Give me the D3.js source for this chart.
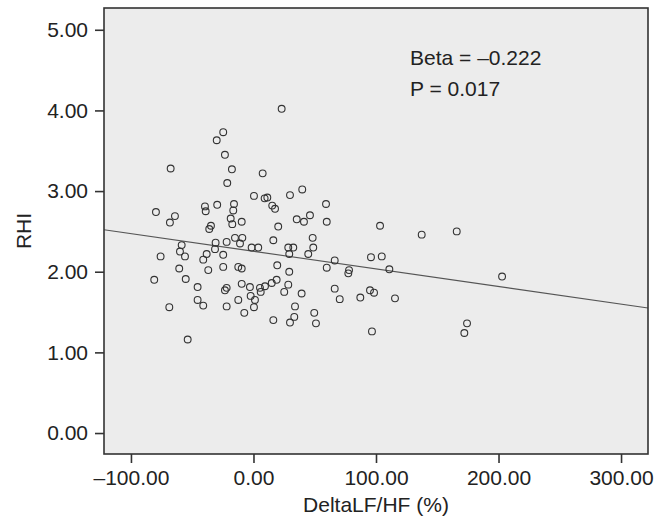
<!DOCTYPE html>
<html>
<head>
<meta charset="utf-8">
<script src="https://cdn.jsdelivr.net/npm/d3@7"></script>
<style>
  html, body { margin: 0; padding: 0; background: #fff; }
  svg text { font-family: "Liberation Sans", Arial, sans-serif; fill: #222; }
</style>
</head>
<body>
<script>
const width = 668,
      height = 524;

// DeltaLF/HF (%) and RHI for each subject
const deltaLFHF = [23.0, -24.7, -30.0, -23.3, -67.6, -17.6, 7.5, -21.4, 39.8, 0.4,
  9.1, 11.3, 29.8, 59.2, -15.9, -29.6, -39.6, -39.0, -16.5, 15.3,
  17.6, -79.6, -64.1, -68.2, 46.1, 35.3, 41.2, -18.6, -17.3, -9.6,
  59.8, -34.7, -36.1, 20.2, 103.3, 137.3, 165.9, 48.3, 16.2, -15.1,
  -9.1, -21.9, -11.0, -30.9, -58.6, -1.5, 3.9, 28.4, 32.5, 48.8,
  -31.4, -60.0, -55.9, -75.8, 29.2, 44.7, -38.2, -41.0, -24.7, -60.6,
  -36.9, -24.7, -12.4, -9.6, 19.4, 29.2, 59.8, -81.0, -55.3, -45.6,
  -21.9, -23.3, -9.6, -2.9, -2.3, 1.2, 0.4, 5.3, 5.9, 9.4,
  14.9, 18.9, 28.4, 25.1, 39.3, -45.6, -41.0, -68.7, -21.9, -12.4,
  -7.5, 33.9, 33.3, 29.8, 16.2, 49.6, 51.0, -53.7, 66.3, 95.9,
  104.7, 110.9, 78.0, 77.4, 202.9, 66.3, 70.4, 87.2, 95.1, 98.4,
  115.5, 96.7, 174.3, 172.1];
const rhi = [4.02, 3.73, 3.63, 3.45, 3.28, 3.27, 3.22, 3.10, 3.02, 2.94,
  2.91, 2.92, 2.95, 2.84, 2.84, 2.83, 2.81, 2.75, 2.76, 2.82,
  2.78, 2.74, 2.69, 2.61, 2.70, 2.65, 2.62, 2.66, 2.59, 2.62,
  2.62, 2.57, 2.53, 2.56, 2.57, 2.46, 2.50, 2.42, 2.39, 2.42,
  2.42, 2.37, 2.35, 2.36, 2.33, 2.30, 2.30, 2.30, 2.30, 2.30,
  2.28, 2.25, 2.19, 2.19, 2.22, 2.22, 2.22, 2.15, 2.21, 2.04,
  2.02, 2.06, 2.06, 2.04, 2.08, 2.00, 2.05, 1.90, 1.91, 1.81,
  1.80, 1.77, 1.85, 1.81, 1.70, 1.65, 1.56, 1.80, 1.75, 1.82,
  1.86, 1.90, 1.84, 1.75, 1.73, 1.65, 1.58, 1.56, 1.57, 1.65,
  1.49, 1.57, 1.44, 1.37, 1.40, 1.49, 1.36, 1.16, 2.14, 2.18,
  2.19, 2.03, 2.02, 1.98, 1.94, 1.79, 1.66, 1.68, 1.77, 1.74,
  1.67, 1.26, 1.36, 1.24];

// fitted line read at the two frame edges
const fitX = [-122, 322];
const fitY = [2.52, 1.55];

const xTicks = [-100, 0, 100, 200, 300];
const yTicks = [0, 1, 2, 3, 4, 5];
const notes = ['Beta = \u20130.222', 'P = 0.017'];

const fmt = (d) => d3.format('.2f')(d).replace('\u2212', '\u2013').replace('-', '\u2013');

const x = d3.scaleLinear().domain([-122, 322]).range([104, 648]);
const y = d3.scaleLinear().domain([-0.26, 5.27]).range([454, 8]);

const svg = d3.select('body').append('svg')
    .attr('width', width)
    .attr('height', height);

svg.append('rect')
    .attr('x', x.range()[0])
    .attr('y', y.range()[1])
    .attr('width', x.range()[1] - x.range()[0])
    .attr('height', y.range()[0] - y.range()[1])
    .attr('fill', '#ececec');

// regression line
svg.append('line')
    .attr('x1', x(fitX[0])).attr('y1', y(fitY[0]))
    .attr('x2', x(fitX[1])).attr('y2', y(fitY[1]))
    .attr('stroke', '#555')
    .attr('stroke-width', 1.1);

svg.append('g').selectAll('circle')
    .data(deltaLFHF.map((d, i) => [d, rhi[i]]))
    .enter()
    .append('circle')
    .attr('cx', (d) => x(d[0]))
    .attr('cy', (d) => y(d[1]))
    .attr('r', 3.4)
    .attr('fill', 'none')
    .attr('stroke', '#333')
    .attr('stroke-width', 1.1);

// frame
svg.append('rect')
    .attr('x', x.range()[0])
    .attr('y', y.range()[1])
    .attr('width', x.range()[1] - x.range()[0])
    .attr('height', y.range()[0] - y.range()[1])
    .attr('fill', 'none')
    .attr('stroke', '#333')
    .attr('stroke-width', 1.6);

const xAxis = svg.append('g')
    .attr('transform', `translate(0,${y.range()[0]})`)
    .call(d3.axisBottom(x).tickValues(xTicks).tickFormat(fmt).tickSize(9).tickPadding(7));

const yAxis = svg.append('g')
    .attr('transform', `translate(${x.range()[0]},0)`)
    .call(d3.axisLeft(y).tickValues(yTicks).tickFormat(fmt).tickSize(9).tickPadding(7));

[xAxis, yAxis].forEach((g) => {
  g.select('.domain').remove();
  g.selectAll('.tick line').attr('stroke', '#333').attr('stroke-width', 1.6);
  g.selectAll('.tick text').attr('font-size', 21).style('fill', '#222');
});

svg.append('text')
    .attr('x', 376)
    .attr('y', 512)
    .attr('text-anchor', 'middle')
    .attr('font-size', 21)
    .text('DeltaLF/HF (%)');

svg.append('text')
    .attr('transform', 'translate(31,231) rotate(-90)')
    .attr('text-anchor', 'middle')
    .attr('font-size', 21)
    .text('RHI');

svg.append('g').selectAll('text')
    .data(notes)
    .enter()
    .append('text')
    .attr('x', 410)
    .attr('y', (d, i) => 65 + i * 31)
    .attr('font-size', 21)
    .text((d) => d);
</script>
</body>
</html>
